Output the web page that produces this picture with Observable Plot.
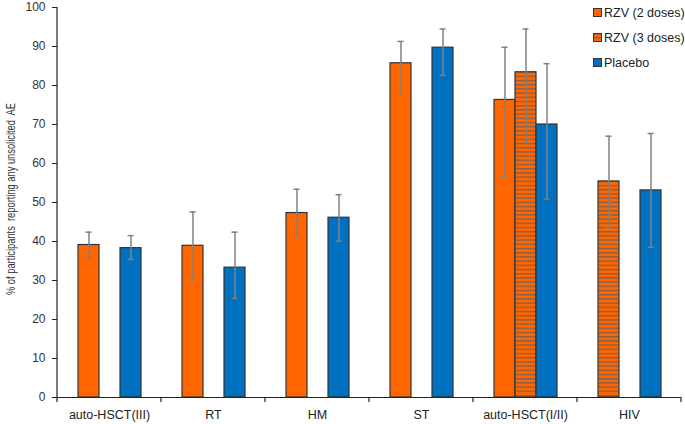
<!DOCTYPE html>
<html><head><meta charset="utf-8">
<script src="https://cdn.jsdelivr.net/npm/d3@7"></script>
<script src="https://cdn.jsdelivr.net/npm/@observablehq/plot@0.6"></script>
<style>
body{margin:0;background:#fff;}
#wrap{position:relative;width:685px;height:424px;font-family:"Liberation Sans",Arial,sans-serif;}
#legend{position:absolute;left:593px;top:0px;font-size:12.5px;color:#222;}
.item{display:flex;align-items:center;height:25px;white-space:nowrap;}
.item svg{margin-right:2px;display:block;}
</style></head><body><div id="wrap"><div id="legend"></div></div>
<script>
// ---- data ----
const categories = ["auto-HSCT(III)", "RT", "HM", "ST", "auto-HSCT(I/II)", "HIV"];
const seriesNames = ["RZV (2 doses)", "RZV (3 doses)", "Placebo"];
const seriesColors = ["#FF6600", "url(#rzv3-stripes)", "#0070C0"];

const rzv2Values = [39.1, 38.9, 47.3, 85.7, 76.3, null];
const rzv2Low    = [35.9, 30.4, 41.5, 77.9, 56.7, null];
const rzv2High   = [42.4, 47.6, 53.4, 91.3, 89.8, null];

const rzv3Values = [null, null, null, null, 83.4, 55.4];
const rzv3Low    = [null, null, null, null, 65.4, 43.6];
const rzv3High   = [null, null, null, null, 94.5, 67.0];

const placeboValues = [38.3, 33.3, 46.1, 89.7, 70.0, 53.1];
const placeboLow    = [35.4, 25.4, 40.1, 82.6, 50.9, 38.5];
const placeboHigh   = [41.5, 42.4, 52.0, 94.5, 85.6, 67.7];

const yTicks = [0, 10, 20, 30, 40, 50, 60, 70, 80, 90, 100];
const yTitle = "% of participants  reporting any unsolicited  AE";

// ---- build table ----
const seriesData = [
  [rzv2Values, rzv2Low, rzv2High],
  [rzv3Values, rzv3Low, rzv3High],
  [placeboValues, placeboLow, placeboHigh]
];
const slots = ["left", "mid", "right"];
const rows = [];
categories.forEach((cat, i) => {
  const present = seriesNames.map((s, k) => k).filter(k => seriesData[k][0][i] != null);
  const slotFor = present.length === 3 ? slots : [slots[0], slots[2]];
  present.forEach((k, j) => {
    rows.push({cat, series: seriesNames[k], slot: slotFor[j],
      value: seriesData[k][0][i], lo: seriesData[k][1][i], hi: seriesData[k][2][i]});
  });
});

const plot = Plot.plot({
  width: 685, height: 424,
  marginLeft: 54, marginRight: 2, marginTop: 7, marginBottom: 27,
  style: {fontFamily: '"Liberation Sans", Arial, sans-serif', fontSize: "12px", color: "#333", background: "transparent"},
  fx: {domain: categories, padding: 0, label: null},
  x: {domain: slots, paddingInner: 0, paddingOuter: 0.88, axis: null},
  y: {domain: [0, 100], axis: null},
  color: {domain: seriesNames, range: seriesColors},
  marks: [
    Plot.barY(rows, {fx: "cat", x: "slot", y: "value", fill: "series", stroke: "#333", strokeWidth: 1.2}),
    Plot.ruleX(rows, {fx: "cat", x: "slot", y1: "lo", y2: "hi", stroke: "#808080", strokeWidth: 1.5}),
    Plot.tickY(rows, {fx: "cat", x: "slot", y: "hi", stroke: "#808080", strokeWidth: 1.5, insetLeft: 7.5, insetRight: 7.5}),
    Plot.tickY(rows, {fx: "cat", x: "slot", y: "lo", stroke: "#808080", strokeWidth: 1.5, insetLeft: 7.5, insetRight: 7.5}),
    Plot.ruleY([0], {stroke: "#222", strokeWidth: 1.2}),
    Plot.axisY({ticks: yTicks, tickSize: 5, tickPadding: 7, label: null, fontSize: 12, stroke: "#222", fill: "#333"}),
    Plot.axisFx({anchor: "bottom", tickSize: 0, tickPadding: 13, label: null, fontSize: 12.5, fill: "#222"})
  ]
});

const wrap = document.getElementById("wrap");
wrap.insertBefore(plot, wrap.firstChild);

const svg = d3.select(plot);
// stripe pattern for RZV (3 doses)
const defs = svg.insert("defs", ":first-child");
const pat = defs.append("pattern").attr("id", "rzv3-stripes")
  .attr("patternUnits", "userSpaceOnUse").attr("width", 4).attr("height", 4.2);
pat.append("rect").attr("width", 4).attr("height", 4.2).attr("fill", "#FF6600");
pat.append("rect").attr("width", 4).attr("height", 1.4).attr("fill", "#86604a");

// axis lines and category boundary ticks from the library's scales
const fx = plot.scale("fx"), y = plot.scale("y");
const x0 = fx.apply(categories[0]);
const xEnd = fx.apply(categories[categories.length - 1]) + fx.bandwidth;
const bounds = categories.map(c => fx.apply(c)).concat([xEnd]);
const g = svg.append("g").attr("stroke", "#222").attr("stroke-width", 1.2);
g.append("line").attr("x1", x0).attr("x2", x0).attr("y1", y.apply(0)).attr("y2", y.apply(100));
bounds.forEach(b => g.append("line").attr("x1", b).attr("x2", b).attr("y1", y.apply(0)).attr("y2", y.apply(0) + 5));

// y title
const yMid = (y.apply(0) + y.apply(100)) / 2;
svg.append("text").text(yTitle)
  .attr("transform", `translate(12,${yMid - 3}) rotate(-90)`)
  .attr("text-anchor", "middle").attr("dominant-baseline", "middle")
  .attr("font-size", 12.5).attr("fill", "#333")
  .attr("textLength", 192).attr("lengthAdjust", "spacingAndGlyphs")
  .style("white-space", "pre");

// legend
const legend = d3.select("#legend");
seriesNames.forEach((name, k) => {
  const item = legend.append("div").attr("class", "item");
  const s = item.append("svg").attr("width", 9).attr("height", 9);
  s.append("rect").attr("x", 0.5).attr("y", 0.5).attr("width", 8).attr("height", 8)
    .attr("fill", seriesColors[k]).attr("stroke", "#333").attr("stroke-width", 1);
  item.append("span").text(name);
});
</script></body></html>
